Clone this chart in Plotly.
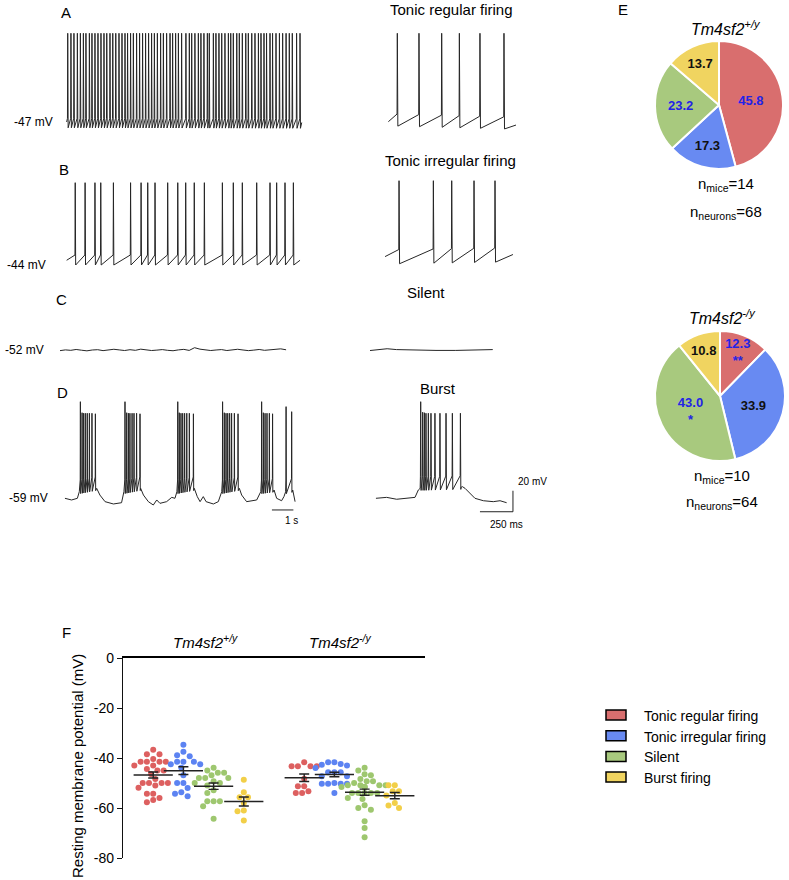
import numpy as np
import plotly.graph_objects as go

W, H = 789, 880
FONT = "Liberation Sans, Arial, sans-serif"


def fx(p):
    return p / W


def fy(p):
    return 1 - p / H


# ---------------- data ----------------
categories = ["Tonic regular firing", "Tonic irregular firing", "Silent", "Burst firing"]
pie_colors = ["#D96E6E", "#688AF2", "#A8C97E", "#F0D460"]
dot_colors = ["#DD6060", "#5C83F2", "#9EC76F", "#F2CF48"]

genotypes = ["<i>Tm4sf2<sup>+/y</sup></i>", "<i>Tm4sf2<sup>-/y</sup></i>"]
pie_wt = [45.8, 17.3, 23.2, 13.7]
pie_ko = [12.3, 33.9, 43.0, 10.8]
pie_wt_sig = ["", "", "", ""]
pie_ko_sig = ["**", "", "*", ""]
pie_wt_highlight = [True, False, True, False]
pie_ko_highlight = [True, False, True, False]
n_mice = [14, 10]
n_neurons = [68, 64]

# resting membrane potential (mV)
wt_regular = [-36.7, -38.5, -38.5, -41.5, -41.5, -40.4, -41.5, -43.0, -43.0, -41.5, -44.4, -45.0, -45.0,
              -46.4, -48.4, -50.0, -50.0, -50.0, -50.0, -51.0, -54.3, -54.3, -51.9, -56.0, -56.8, -57.7]
wt_irregular = [-34.7, -37.5, -38.9, -39.3, -41.5, -41.5, -42.5, -41.5, -42.5, -43.9, -46.9, -50.0, -50.0,
                -52.0, -53.7, -54.3, -55.3]
wt_silent = [-45.0, -43.9, -45.9, -45.9, -46.9, -48.0, -48.0, -48.0, -49.3, -50.0, -51.0, -50.0, -52.9,
             -54.0, -57.3, -57.3, -57.3, -59.3, -64.3]
wt_burst = [-48.7, -53.7, -55.7, -55.7, -58.0, -61.0, -61.3, -65.0]
ko_regular = [-43.3, -43.3, -43.3, -43.3, -41.7, -48.3, -51.3, -51.3, -54.0, -53.3, -54.0]
ko_irregular = [-41.7, -42.4, -41.7, -43.0, -42.7, -45.7, -44.0, -45.7, -45.7, -47.3, -47.3, -50.3, -50.3,
                -50.3, -50.3, -50.0, -54.0]
ko_silent = [-43.9, -45.0, -46.9, -46.5, -49.3, -49.3, -48.4, -50.9, -50.9, -50.9, -50.9, -50.0, -51.6,
             -51.6, -51.6, -51.6, -54.0, -54.0, -54.0, -54.0, -54.0, -56.4, -56.0, -58.9, -60.0, -60.7,
             -65.3, -68.0, -71.7]
ko_burst = [-50.9, -50.9, -53.3, -53.3, -55.0, -58.0, -59.0, -60.0]
group_positions = [1, 2, 3, 4, 6, 7, 8, 9]
y_ticks = [0, -20, -40, -60, -80]

# ---- example traces (time in s, voltage in mV) ----
# A: tonic regular firing
a_left_base_t = [0.31, 11.27]
a_left_base_v = [-47.0, -47.5]
a_left_spikes = [0.36, 0.51, 0.65, 0.81, 0.95, 1.09, 1.21, 1.37, 1.49, 1.63, 1.77, 1.91, 2.05, 2.18, 2.33,
                 2.46, 2.60, 2.75, 2.89, 3.03, 3.15, 3.29, 3.42, 3.57, 3.71, 3.85, 3.99, 4.13, 4.27, 4.40,
                 4.54, 4.69, 4.82, 4.97, 5.13, 5.25, 5.39, 5.52, 5.67, 5.87, 6.03, 6.14, 6.29, 6.45, 6.57,
                 6.71, 6.87, 6.96, 7.15, 7.27, 7.41, 7.54, 7.69, 7.85, 7.96, 8.08, 8.24, 8.36, 8.50, 8.66,
                 8.78, 8.94, 9.09, 9.25, 9.37, 9.51, 9.63, 9.79, 9.91, 10.07, 10.23, 10.38, 10.54, 10.69,
                 10.83, 11.03, 11.19]
a_left_peak = 37.5
a_right_base_t = [0.139, 1.106]
a_right_base_v = [-46.7, -49.9]
a_right_spikes = [0.207, 0.371, 0.543, 0.677, 0.833, 1.015]
a_right_peak = 37.5

# B: tonic irregular firing
b_left_base_t = [0.31, 11.19]
b_left_base_v = [-39.5, -39.5]
b_left_spikes = [0.71, 1.17, 1.63, 1.90, 2.49, 3.29, 3.78, 4.09, 4.43, 5.02, 5.49, 5.86, 6.26, 6.73, 7.57,
                 8.08, 8.50, 9.17, 9.79, 10.10, 10.49, 10.88]
b_left_peak = 34.4
b_right_base_t = [0.114, 1.083]
b_right_base_v = [-36.0, -34.0]
b_right_spikes = [0.220, 0.480, 0.619, 0.788, 0.947]
b_right_peak = 36.3

# C: silent
c_left_v = [-52.6, -51.9, -52.3, -51.5, -52.2, -52.8, -52.0, -51.7, -52.6, -52.2, -51.3, -51.9, -52.5,
            -51.7, -52.3, -51.2, -51.9, -52.5, -52.1, -51.6, -52.3, -52.7, -51.9, -51.4, -52.4, -49.8,
            -51.2, -51.8, -52.5, -52.0, -51.6, -52.5, -52.1, -51.3, -52.0, -52.6, -52.1, -51.5, -52.3,
            -51.9, -51.4, -50.9, -51.8]
c_left_duration = 10.54
c_right_t = [0.0, 0.06, 0.13, 0.20, 0.35, 0.50, 0.65, 0.80, 0.93]
c_right_v = [-52.5, -52.0, -50.8, -51.6, -52.2, -52.4, -52.4, -52.2, -51.6]

# D: burst firing
d_left_base_t = [0.23, 0.54, 0.81, 0.90, 1.71, 1.86, 2.10, 2.49, 2.87, 2.98, 3.76, 3.89, 4.12, 4.35, 4.51,
                 4.66, 4.97, 5.21, 5.36, 5.45, 6.26, 6.40, 6.53, 6.68, 6.81, 7.15, 7.38, 7.54, 8.36, 8.47,
                 8.70, 9.17, 9.36, 9.98, 10.10, 10.33, 10.44, 10.52, 10.85, 10.96]
d_left_base_v = [-59.0, -60.6, -59.0, -52.7, -49.5, -55.9, -62.2, -64.4, -63.2, -52.7, -49.5, -55.9,
                 -62.2, -65.4, -60.6, -63.8, -62.2, -58.1, -59.0, -52.7, -49.5, -57.4, -62.2, -57.4,
                 -62.2, -64.4, -62.2, -52.7, -49.5, -55.9, -62.2, -60.6, -52.7, -51.1, -59.0, -61.3,
                 -57.4, -52.7, -51.1, -62.2]
d_left_spikes = [0.95, 1.03, 1.10, 1.18, 1.27, 1.37, 1.49, 1.65,
                 3.03, 3.11, 3.19, 3.26, 3.36, 3.45, 3.57, 3.73,
                 5.49, 5.56, 5.64, 5.72, 5.81, 5.91, 6.03, 6.22,
                 7.58, 7.66, 7.74, 7.82, 7.91, 8.00, 8.13, 8.30,
                 9.40, 9.48, 9.56, 9.65, 9.76, 9.91,
                 10.54, 10.80]
d_left_peaks = [33.0, 22.5, 22.0, 22.0, 22.0, 22.0, 22.0, 21.5,
                33.0, 22.5, 22.0, 22.0, 22.0, 22.0, 22.0, 21.5,
                33.0, 22.5, 22.0, 22.0, 22.0, 22.0, 22.0, 21.5,
                33.0, 22.5, 22.0, 22.0, 22.0, 22.0, 22.0, 21.5,
                33.0, 22.5, 22.0, 22.0, 22.0, 21.5,
                28.3, 23.5]
d_right_base_t = [0.045, 0.126, 0.202, 0.278, 0.341, 0.366, 0.380, 0.690, 0.700, 0.720, 0.758, 0.795,
                  0.859, 0.934, 0.985, 1.035]
d_right_base_v = [-59.0, -58.1, -59.9, -59.0, -58.1, -51.1, -49.5, -48.5, -47.9, -49.5, -54.3, -59.0,
                  -61.3, -62.2, -61.3, -63.2]
d_right_spikes = [0.384, 0.399, 0.412, 0.424, 0.442, 0.462, 0.492, 0.530, 0.576, 0.624, 0.685]
d_right_peaks = [33.0, 23.0, 22.5, 22.0, 22.0, 22.0, 22.0, 22.0, 22.0, 22.0, 22.0]


# ---------------- helpers ----------------
def build_trace(base_t, base_v, spikes, peaks, up, down, e_pre, e_post):
    spikes = np.asarray(spikes, dtype=float)
    peaks = np.broadcast_to(np.asarray(peaks, dtype=float), spikes.shape)
    pts = []
    for t, v in zip(base_t, base_v):
        if np.any((t > spikes - e_pre) & (t < spikes + e_post)):
            continue
        pts.append((t, v))
    for t, p in zip(spikes, peaks):
        b = float(np.interp(t, base_t, base_v))
        pts += [(t - e_pre, b + up), (t, p), (t + e_post, b - down)]
    pts.sort()
    xs, ys = zip(*pts)
    return list(xs), list(ys)


def swarm(vals, d_px=6.3, sx=30.2, sy=2.5):
    vals = np.asarray(vals, dtype=float)
    order = np.argsort(-vals, kind="stable")
    step = d_px / 3.0
    cands = sorted([k * step for k in range(-12, 13)], key=lambda c: (abs(c), c))
    placed = []
    offs = np.zeros(len(vals))
    for i in order:
        y = vals[i] * sy
        for c in cands:
            ok = True
            for (px, py) in placed:
                if (px - c) ** 2 + (py - y) ** 2 < (d_px * 0.98) ** 2:
                    ok = False
                    break
            if ok:
                offs[i] = c / sx
                placed.append((c, y))
                break
    return offs


fig = go.Figure()
layout_axes = {}


def names(i):
    return ("x" if i == 1 else f"x{i}", "y" if i == 1 else f"y{i}",
            "xaxis" if i == 1 else f"xaxis{i}", "yaxis" if i == 1 else f"yaxis{i}")


def set_axes(i, xpx, ypx, xr, yr, visible=False):
    xa, ya, xn, yn = names(i)
    layout_axes[xn] = dict(domain=[fx(xpx[0]), fx(xpx[1])], range=xr, visible=visible, automargin=False,
                           anchor=ya, fixedrange=True, showgrid=False, zeroline=False)
    layout_axes[yn] = dict(domain=[fy(ypx[1]), fy(ypx[0])], range=yr, visible=visible, automargin=False,
                           anchor=xa, fixedrange=True, showgrid=False, zeroline=False)
    return xa, ya


LEFT_X = (60, 305)
LEFT_R = [0, 245 / 21.45]
RIGHT_X = (370, 520)
RIGHT_R = [0, 150 / 132]
ROW_A = ((25.4, 135.65), [-60, 45])
ROW_B = ((171.55, 281.8), [-60, 45])
ROW_C = ((337.4, 358.4), [-60, -40])
ROW_D = ((389.1, 520.35), [-80, 45])

TRACE_COL = "#262626"


def add_line(xs, ys, xa, ya, width=1.0):
    fig.add_trace(go.Scatter(x=xs, y=ys, mode="lines", xaxis=xa, yaxis=ya,
                             line=dict(color=TRACE_COL, width=width), hoverinfo="skip",
                             showlegend=False))


# A
ax = set_axes(1, LEFT_X, ROW_A[0], LEFT_R, ROW_A[1])
add_line(*build_trace(a_left_base_t, a_left_base_v, a_left_spikes, a_left_peak, 3.5, 5.5, 0.012, 0.02), *ax)
ax = set_axes(2, RIGHT_X, ROW_A[0], RIGHT_R, ROW_A[1])
add_line(*build_trace(a_right_base_t, a_right_base_v, a_right_spikes, a_right_peak, 7.5, 4.0, 0.002, 0.004), *ax)
# B
ax = set_axes(3, LEFT_X, ROW_B[0], LEFT_R, ROW_B[1])
add_line(*build_trace(b_left_base_t, b_left_base_v, b_left_spikes, b_left_peak, 5.0, 4.5, 0.012, 0.02), *ax)
ax = set_axes(4, RIGHT_X, ROW_B[0], RIGHT_R, ROW_B[1])
add_line(*build_trace(b_right_base_t, b_right_base_v, b_right_spikes, b_right_peak, 6.5, 7.0, 0.002, 0.004), *ax)
# C
ax = set_axes(5, LEFT_X, ROW_C[0], LEFT_R, ROW_C[1])
add_line(list(np.linspace(0, c_left_duration, len(c_left_v))), c_left_v, *ax)
ax = set_axes(6, RIGHT_X, ROW_C[0], RIGHT_R, ROW_C[1])
add_line(c_right_t, c_right_v, *ax)
# D
ax = set_axes(7, LEFT_X, ROW_D[0], LEFT_R, ROW_D[1])
add_line(*build_trace(d_left_base_t, d_left_base_v, d_left_spikes, d_left_peaks, 11.0, 2.0, 0.008, 0.012), *ax)
ax = set_axes(8, RIGHT_X, ROW_D[0], RIGHT_R, ROW_D[1])
add_line(*build_trace(d_right_base_t, d_right_base_v, d_right_spikes, d_right_peaks, 11.0, 2.0, 0.002, 0.003), *ax)

shapes = []
# scale bars
shapes.append(dict(type="line", xref="x7", yref="y7", x0=9.88, x1=10.88, y0=-70.1, y1=-70.1,
                   line=dict(color="#222", width=1)))
shapes.append(dict(type="line", xref="x8", yref="y8", x0=0.833, x1=1.083, y0=-71.8, y1=-71.8,
                   line=dict(color="#222", width=1)))
shapes.append(dict(type="line", xref="x8", yref="y8", x0=1.083, x1=1.083, y0=-71.8, y1=-51.8,
                   line=dict(color="#222", width=1)))

# ---------------- pies ----------------
for dom, vals, sig, hl in [((655, 783, 39, 171), pie_wt, pie_wt_sig, pie_wt_highlight),
                           ((655, 785, 329, 463), pie_ko, pie_ko_sig, pie_ko_highlight)]:
    texts = []
    for v, s in zip(vals, sig):
        t = f"<b>{v:.1f}</b>"
        if s:
            t += f"<br><b>{s}</b>"
        texts.append(t)
    fig.add_trace(go.Pie(values=vals, labels=categories, sort=False, direction="clockwise", rotation=0,
                         marker=dict(colors=pie_colors, line=dict(color="white", width=2)),
                         text=texts, textinfo="text", textposition="inside",
                         insidetextorientation="horizontal", automargin=False,
                         textfont=dict(family=FONT, size=13,
                                       color=["#2323E6" if h else "#111111" for h in hl]),
                         domain=dict(x=[fx(dom[0]), fx(dom[1])], y=[fy(dom[3]), fy(dom[2])]),
                         showlegend=False, hoverinfo="skip"))

# ---------------- scatter (F) ----------------
xa, ya = set_axes(9, (123, 425), (658, 858), [0, 10], [-80, 0], visible=True)
layout_axes["xaxis9"].update(side="top", showline=True, linecolor="black", linewidth=2.2,
                             showticklabels=False, ticks="")
layout_axes["yaxis9"].update(showline=True, linecolor="#111", linewidth=1.4, ticks="outside",
                             ticklen=5, tickwidth=1.4, tickcolor="#111", tickvals=y_ticks,
                             ticktext=[str(v) for v in y_ticks],
                             tickfont=dict(family=FONT, size=14, color="black"))

groups = [wt_regular, wt_irregular, wt_silent, wt_burst, ko_regular, ko_irregular, ko_silent, ko_burst]
for k, (vals, pos) in enumerate(zip(groups, group_positions)):
    col = dot_colors[k % 4]
    offs = swarm(vals)
    fig.add_trace(go.Scatter(x=list(pos + offs), y=vals, mode="markers", xaxis=xa, yaxis=ya,
                             marker=dict(color=col, size=6, line=dict(width=0)),
                             hoverinfo="skip", showlegend=False))
for k, (vals, pos) in enumerate(zip(groups, group_positions)):
    arr = np.asarray(vals)
    mean = arr.mean()
    sem = arr.std(ddof=1) / np.sqrt(len(arr))
    fig.add_trace(go.Scatter(x=[pos], y=[mean], mode="markers", xaxis=xa, yaxis=ya,
                             marker=dict(symbol="line-ew", size=28, color="#222",
                                         line=dict(color="#222", width=1.5)),
                             error_y=dict(type="data", array=[sem], width=5, thickness=1.4, color="#222"),
                             hoverinfo="skip", showlegend=False))

# ---------------- annotations ----------------
annotations = []


def ann(text, x, y, size, xanchor="center", yanchor="middle", **kw):
    annotations.append(dict(text=text, x=fx(x), y=fy(y), xref="paper", yref="paper", showarrow=False,
                            xanchor=xanchor, yanchor=yanchor,
                            font=dict(size=size, color="black", family=FONT), **kw))


for letter, x, y in [("A", 66, 12), ("B", 64, 170), ("C", 61, 300), ("D", 62, 392), ("E", 623, 10),
                     ("F", 66, 632)]:
    ann(letter, x, y, 15)

ann("Tonic regular firing", 451, 10, 15)
ann("Tonic irregular firing", 450, 160, 15)
ann("Silent", 426, 292, 15)
ann("Burst", 438, 388, 15)

for text, yv, yref, x in [("-47 mV", -47, "y", 12), ("-44 mV", -44, "y3", 5), ("-52 mV", -52, "y5", 3),
                          ("-59 mV", -59, "y7", 7)]:
    annotations.append(dict(text=text, x=fx(x), y=yv, xref="paper", yref=yref, showarrow=False,
                            xanchor="left", yanchor="middle",
                            font=dict(size=12, color="black", family=FONT)))

ann("1 s", 291, 520, 10)
ann("250 ms", 506, 524, 10)
ann("20 mV", 516, 481, 10, xanchor="left")

# pie titles and counts
for (cx, ty, my, ny), g, nm, nn in zip([(726, 28, 185, 212), (722, 317, 477, 503)], genotypes, n_mice,
                                       n_neurons):
    ann(g, cx, ty, 16)
    ann(f"n<sub>mice</sub>={nm}", cx, my, 15)
    ann(f"n<sub>neurons</sub>={nn}", cx, ny, 15)

# F labels
ann(genotypes[0], 205, 641, 15)
ann(genotypes[1], 340, 641, 15)
ann("Resting membrane potential (mV)", 77, 766, 15, textangle=-90)

# legend
for i, (name, col) in enumerate(zip(categories, pie_colors)):
    yc = 715 + i * 20.7
    shapes.append(dict(type="rect", xref="paper", yref="paper", x0=fx(606), x1=fx(626),
                       y0=fy(yc + 5), y1=fy(yc - 5), fillcolor=col, line=dict(color="black", width=1.5)))
    ann(name, 642, yc + 1, 14, xanchor="left")

fig.update_layout(width=W, height=H, margin=dict(l=0, r=0, t=0, b=0, pad=0, autoexpand=False),
                  paper_bgcolor="white",
                  plot_bgcolor="rgba(0,0,0,0)", showlegend=False, shapes=shapes, annotations=annotations,
                  uniformtext=dict(minsize=13, mode="show"), font=dict(family=FONT), **layout_axes)

fig.write_html("out.html", config={"displayModeBar": False},
               post_script="document.body.style.margin='0px';")
